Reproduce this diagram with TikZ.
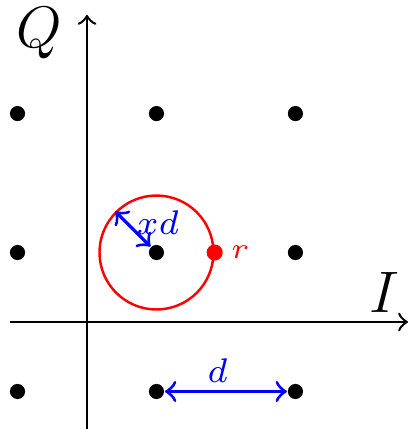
\documentclass[tikz,border=0pt]{standalone}
\begin{document}
\begin{tikzpicture}[
  pt/.style={circle,fill=black,inner sep=0pt,minimum size=3.1pt},
  rpt/.style={circle,fill=red,inner sep=0pt,minimum size=3.3pt},
  axis/.style={->,line width=0.5pt},
  meas/.style={<->,blue,line width=0.65pt},
  big/.style={font=\fontsize{11.7}{14}\selectfont},
  small/.style={font=\fontsize{7}{8.5}\selectfont}
]
\useasboundingbox (-0.626,-0.77) rectangle (2.331,2.317);
% axes
\coordinate (xl) at (-0.554,0);
\coordinate (xr) at (2.31,0);
\coordinate (yb) at (0,-0.8);
\coordinate (yt) at (0,2.21);
\draw[axis] (xl) -- (xr);
\draw[axis] (yb) -- (yt);
\node[big] (Q) at (-0.345,2.08) {$Q$};
\node[big] (I) at (2.14,0.21) {$I$};
% constellation
\foreach \i/\x in {0/-0.5,1/0.5,2/1.5}{
  \foreach \j/\y in {0/-0.5,1/0.5,2/1.5}{
    \node[pt] (p\i\j) at (\x,\y) {};
  }
}
% noise circle
\node[circle,draw=red,line width=0.5pt,inner sep=0pt,minimum size=0.82cm] (C) at (0.5,0.5) {};
\node[rpt] (r) at (C.0) {};
\node[red,anchor=west,inner sep=1.3pt,font=\fontsize{5.6}{7}\selectfont] (rl) at (r.east) {$r$};
\draw[meas] (p11) -- (C.135);
\node[blue,small] (xd) at (0.51,0.715) {$xd$};
% distance d
\draw[meas] (p10) -- (p20);
\node[blue,small] (dl) at (0.94,-0.35) {$d$};
\end{tikzpicture}
\end{document}
